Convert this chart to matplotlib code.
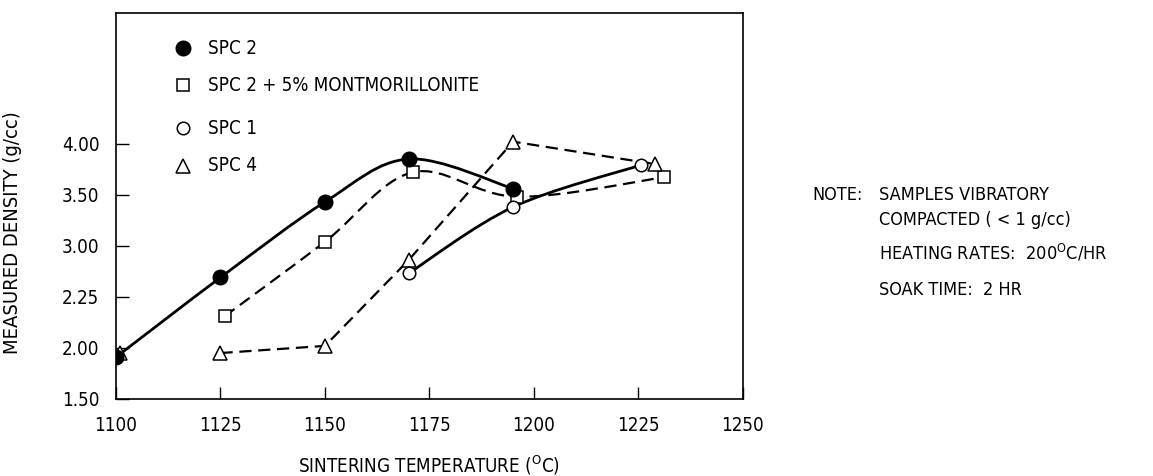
import matplotlib
matplotlib.use("Agg")
import matplotlib.pyplot as plt
import numpy as np
from matplotlib.path import Path
from matplotlib.patches import PathPatch

plt.rcParams["font.family"] = ["DejaVu Sans"]
plt.rcParams["font.stretch"] = "condensed"
plt.rcParams["mathtext.fontset"] = "custom"
plt.rcParams["mathtext.rm"] = "DejaVu Sans"

# sintering temperature (C) vs measured density (g/cc)
spc2_temp = [1100, 1125, 1150, 1170, 1195]
spc2_dens = [1.91, 2.69, 3.43, 3.85, 3.56]

mont_temp = [1126, 1150, 1171, 1196, 1231]
mont_dens = [2.31, 3.04, 3.72, 3.48, 3.67]

spc1_temp = [1170, 1195, 1225.5]
spc1_dens = [2.73, 3.38, 3.79]

spc4_temp = [1101, 1125, 1150, 1170, 1195, 1229]
spc4_dens = [1.95, 1.95, 2.02, 2.86, 4.02, 3.80]

x_ticks = [1100, 1125, 1150, 1175, 1200, 1225, 1250]
y_ticks = [1.5, 2.0, 2.5, 3.0, 3.5, 4.0]
y_labels = ["1.50", "2.00", "2.25", "3.00", "3.50", "4.00"]

legend_labels = ["SPC 2", "SPC 2 + 5% MONTMORILLONITE", "SPC 1", "SPC 4"]


def smooth_path(xs, ys):
    """Catmull-Rom curve through the points, as cubic bezier segments."""
    pts = np.column_stack([xs, ys]).astype(float)
    n = len(pts)
    verts = [pts[0]]
    codes = [Path.MOVETO]
    for i in range(n - 1):
        p0 = pts[i - 1] if i > 0 else pts[i]
        p1, p2 = pts[i], pts[i + 1]
        p3 = pts[i + 2] if i + 2 < n else pts[i + 1]
        verts += [p1 + (p2 - p0) / 6, p2 - (p3 - p1) / 6, p2]
        codes += [Path.CURVE4] * 3
    return Path(verts, codes)


fig = plt.figure(figsize=(11.53, 4.76), dpi=100)
ax = fig.add_axes([0.1006, 0.1618, 0.5438, 0.8109])

solid = dict(fill=False, edgecolor="black", lw=2.0, capstyle="round")
dashed = dict(fill=False, edgecolor="black", lw=1.6, linestyle=(0, (5.5, 3)))

ax.add_patch(PathPatch(smooth_path(spc2_temp, spc2_dens), **solid))
ax.add_patch(PathPatch(smooth_path(spc1_temp, spc1_dens), **solid))
ax.add_patch(PathPatch(smooth_path(mont_temp, mont_dens), **dashed))
ax.plot(spc4_temp[1:], spc4_dens[1:], color="black", lw=1.6, dashes=(5.5, 3))

ax.plot(mont_temp, mont_dens, ls="none", marker="s", ms=8.5, mfc="white",
        mec="black", mew=1.1, zorder=3)
ax.plot(spc4_temp, spc4_dens, ls="none", marker="^", ms=9.5, mfc="white",
        mec="black", mew=1.1, zorder=3)
ax.plot(spc1_temp, spc1_dens, ls="none", marker="o", ms=9, mfc="white",
        mec="black", mew=1.1, zorder=4)
ax.plot(spc2_temp, spc2_dens, ls="none", marker="o", ms=10.5, mfc="black",
        mec="black", zorder=5)

ax.set_xlim(1100, 1250)
ax.set_ylim(1.5, 5.28)
ax.set_xticks(x_ticks)
ax.set_xticklabels([str(t) for t in x_ticks])
ax.set_yticks(y_ticks)
ax.set_yticklabels(y_labels)
ax.tick_params(direction="in", length=9, width=1.0, labelsize=13.5, pad=12)
for s in ax.spines.values():
    s.set_linewidth(1.2)

ax.set_xlabel("SINTERING TEMPERATURE ($^{\\mathrm{O}}$C)", fontsize=13.5)
ax.xaxis.set_label_coords(0.5, -0.142)
ax.set_ylabel("MEASURED DENSITY (g/cc)", fontsize=14.5)
ax.yaxis.set_label_coords(-0.15, 0.43)

# legend drawn by hand inside the frame
leg_marks = [
    dict(marker="o", ms=10.5, mfc="black", mec="black"),
    dict(marker="s", ms=8.5, mfc="white", mec="black", mew=1.1),
    dict(marker="o", ms=9, mfc="white", mec="black", mew=1.1),
    dict(marker="^", ms=9.5, mfc="white", mec="black", mew=1.1),
]
leg_y = [0.909, 0.813, 0.702, 0.604]
for label, mk, yy in zip(legend_labels, leg_marks, leg_y):
    ax.plot([0.107], [yy], transform=ax.transAxes, ls="none", **mk)
    ax.text(0.147, yy, label, transform=ax.transAxes, fontsize=13.5, va="center")

note_kw = dict(fontsize=13, va="center", ha="left")
fig.text(812 / 1153, 1 - 195 / 476, "NOTE:", **note_kw)
fig.text(879 / 1153, 1 - 195 / 476, "SAMPLES VIBRATORY", **note_kw)
fig.text(879 / 1153, 1 - 220 / 476, "COMPACTED ( < 1 g/cc)", **note_kw)
fig.text(879 / 1153, 1 - 253 / 476, "HEATING RATES:  200$^{\\mathrm{O}}$C/HR", **note_kw)
fig.text(879 / 1153, 1 - 290 / 476, "SOAK TIME:  2 HR", **note_kw)

fig.savefig("out.png", dpi=100)
